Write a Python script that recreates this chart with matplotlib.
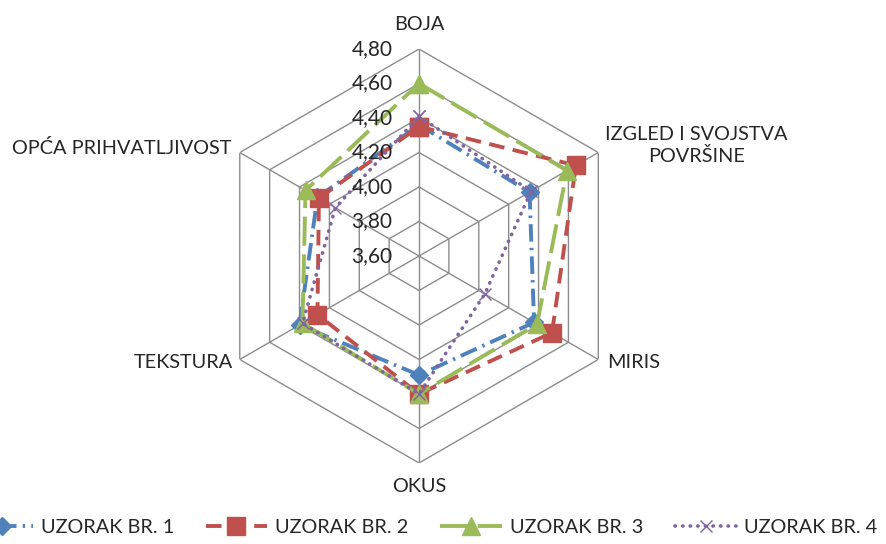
import numpy as np
import matplotlib
matplotlib.use("Agg")
import matplotlib.pyplot as plt

# ── Data ───────────────────────────────────────────────────
categories = ["BOJA", "IZGLED I SVOJSTVA\nPOVRŠINE", "MIRIS", "OKUS",
              "TEKSTURA", "OPĆA PRIHVATLJIVOST"]
series_names = ["UZORAK BR. 1", "UZORAK BR. 2", "UZORAK BR. 3", "UZORAK BR. 4"]
uzorak_1 = [4.36, 4.34, 4.37, 4.29, 4.40, 4.28]
uzorak_2 = [4.35, 4.65, 4.49, 4.40, 4.28, 4.27]
uzorak_3 = [4.60, 4.59, 4.39, 4.40, 4.38, 4.36]
uzorak_4 = [4.41, 4.35, 4.04, 4.40, 4.38, 4.16]
r_ticks = [3.60, 3.80, 4.00, 4.20, 4.40, 4.60, 4.80]
r_labels = ["3,60", "3,80", "4,00", "4,20", "4,40", "4,60", "4,80"]

FONT = "Lato"
plt.rcParams["font.family"] = [FONT, "DejaVu Sans"]

fig = plt.figure(figsize=(8.86, 5.44), dpi=100)
ax = fig.add_axes([0.2393, 0.1489, 0.4673, 0.761], projection="polar")
ax.set_theta_zero_location("N")
ax.set_theta_direction(-1)
ax.set_ylim(r_ticks[0], r_ticks[-1])
ax.grid(False)
ax.spines["polar"].set_visible(False)
ax.set_xticks([])
ax.set_yticks([])
ax.patch.set_alpha(0)

n = len(categories)
theta = np.linspace(0, 2 * np.pi, n, endpoint=False)
theta_c = np.append(theta, theta[0])

# hexagon rings + spokes
grid_col = "#8c8c8c"
for r in r_ticks[1:]:
    ax.plot(theta_c, [r] * (n + 1), color=grid_col, lw=1.0, zorder=1)
for t in theta:
    ax.plot([t, t], [r_ticks[0], r_ticks[-1]], color=grid_col, lw=1.0, zorder=1)

# ── Series ─────────────────────────────────────────────────
styles = [
    dict(color="#4f81bd", marker="D", ms=9, ls=(0, (4.5, 1.6, 0.6, 1.6))),
    dict(color="#c0504d", marker="s", ms=13, ls=(0, (4.0, 2.2))),
    dict(color="#9bbb59", marker="^", ms=13, ls=(0, (7.5, 2.2))),
    dict(color="#8064a2", marker="x", ms=8, ls=(0, (0.1, 2.0))),
]
data = [uzorak_1, uzorak_2, uzorak_3, uzorak_4]
handles = []
for name, vals, st in zip(series_names, data, styles):
    v = np.append(vals, vals[0])
    is_x = st["marker"] == "x"
    h, = ax.plot(theta_c, v, color=st["color"], lw=2.6 if is_x else 2.8,
                 linestyle=st["ls"], marker=st["marker"], markersize=st["ms"],
                 markeredgewidth=1.0,
                 markerfacecolor=st["color"], markeredgecolor=st["color"],
                 dash_capstyle="round" if is_x else "butt",
                 label=name, zorder=3, clip_on=False)
    handles.append(h)

# ── Radial tick labels ─────────────────────────────────────
for r, lab in zip(r_ticks, r_labels):
    ax.annotate(lab, xy=(0, r), xytext=(-19, 0), textcoords="offset points",
                ha="right", va="center", fontsize=15, color="#262626", zorder=5)

# ── Category labels ────────────────────────────────────────
lab_kw = dict(fontsize=14.3, color="#262626", textcoords="offset points",
              annotation_clip=False)
rmax = r_ticks[-1]
ax.annotate(categories[0], xy=(theta[0], rmax), xytext=(0, 18),
            ha="center", va="center", **lab_kw)
ax.annotate(categories[1], xy=(theta[1], rmax), xytext=(5, 5),
            ha="left", va="center", multialignment="center", linespacing=1.3,
            **lab_kw)
ax.annotate(categories[2], xy=(theta[2], rmax), xytext=(6, -2),
            ha="left", va="center", **lab_kw)
ax.annotate(categories[3], xy=(theta[3], rmax), xytext=(0, -17),
            ha="center", va="center", **lab_kw)
ax.annotate(categories[4], xy=(theta[4], rmax), xytext=(-5, -2),
            ha="right", va="center", **lab_kw)
ax.annotate(categories[5], xy=(theta[5], rmax), xytext=(-6, 3),
            ha="right", va="center", **lab_kw)

# ── Legend ─────────────────────────────────────────────────
fig.legend(handles=handles, loc="center", bbox_to_anchor=(0.479, 0.031),
           ncol=4, frameon=False, fontsize=14.3, handlelength=3.1,
           handletextpad=0.4, columnspacing=1.6, numpoints=1,
           labelcolor="#262626")

fig.savefig("out.png", dpi=100)
